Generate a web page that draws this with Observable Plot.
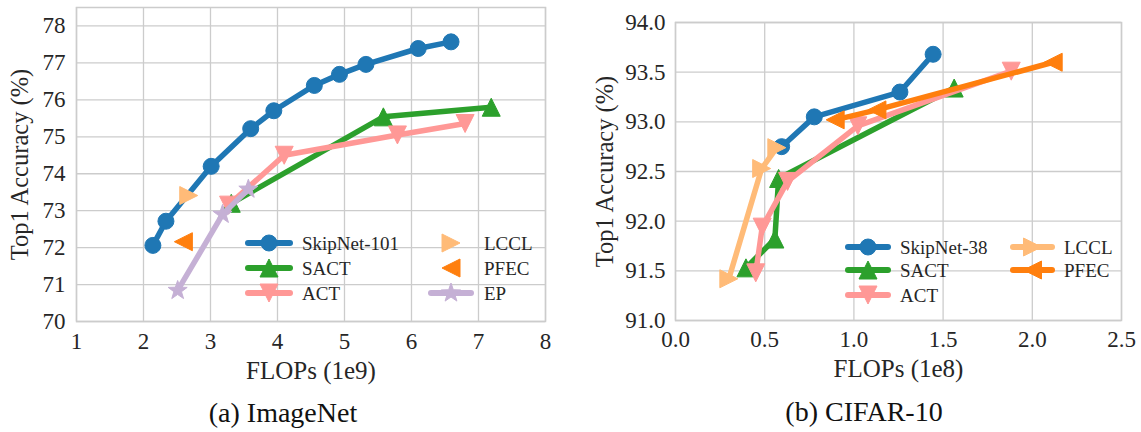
<!DOCTYPE html>
<html>
<head>
<meta charset="utf-8">
<script src="https://cdn.jsdelivr.net/npm/d3@7"></script>
<script src="https://cdn.jsdelivr.net/npm/@observablehq/plot@0.6"></script>
<style>
  html, body { margin: 0; padding: 0; background: #fff; }
  #page { position: relative; width: 1141px; height: 432px; overflow: hidden; background: #fff; }
  .panel { position: absolute; top: 0; height: 432px; }
  .panel svg text { font-family: 'Liberation Serif', 'DejaVu Serif', 'Times New Roman', serif !important; }
  .caption { position: absolute; font-family: 'Liberation Serif', 'DejaVu Serif', serif; font-size: 28px; color: #111; white-space: nowrap; transform: translate(-50%, -50%); }
</style>
</head>
<body>
<div id="page">
  <div class="panel" id="pa" style="left:0px;width:570px"></div>
  <div class="panel" id="pb" style="left:570px;width:571px"></div>
</div>
<script>
// ---------- data: (a) ImageNet ----------
const seriesNamesA = ["SkipNet-101", "SACT", "ACT", "LCCL", "PFEC", "EP"];
const skipA_x = [2.14, 2.335, 3.01, 3.60, 3.945, 4.55, 4.925, 5.32, 6.10, 6.59];
const skipA_y = [72.06, 72.715, 74.20, 75.22, 75.705, 76.39, 76.69, 76.96, 77.39, 77.57];
const sactA_x = [3.31, 5.58, 7.19];
const sactA_y = [73.20, 75.54, 75.80];
const actA_x = [3.27, 4.10, 5.79, 6.80];
const actA_y = [73.15, 74.50, 75.05, 75.36];
const lcclA_x = [2.675];
const lcclA_y = [73.41];
const pfecA_x = [2.595];
const pfecA_y = [72.16];
const epA_x = [2.51, 3.18, 3.565];
const epA_y = [70.84, 72.90, 73.58];
const xTicksA = [1, 2, 3, 4, 5, 6, 7, 8];
const yTicksA = [70, 71, 72, 73, 74, 75, 76, 77, 78];

// ---------- data: (b) CIFAR-10 ----------
const seriesNamesB = ["SkipNet-38", "SACT", "ACT", "LCCL", "PFEC"];
const skipB_x = [0.595, 0.778, 1.258, 1.444];
const skipB_y = [92.75, 93.05, 93.30, 93.68];
const sactB_x = [0.395, 0.557, 0.578, 1.562];
const sactB_y = [91.53, 91.82, 92.43, 93.34];
const actB_x = [0.450, 0.486, 0.628, 1.022, 1.882];
const actB_y = [91.48, 91.94, 92.40, 92.96, 93.51];
const lcclB_x = [0.299, 0.483, 0.568];
const lcclB_y = [91.42, 92.53, 92.74];
const pfecB_x = [0.895, 1.129, 2.117];
const pfecB_y = [93.02, 93.12, 93.60];
const xTicksB = [0, 0.5, 1.0, 1.5, 2.0, 2.5];
const yTicksB = [91.0, 91.5, 92.0, 92.5, 93.0, 93.5, 94.0];

// ---------- styling ----------
const COL = {blue: "#1f77b4", green: "#2ca02c", pink: "#ff9896", lorange: "#ffbb78", orange: "#ff7f0e", purple: "#c5b0d5"};
const FONT = "'Liberation Serif', 'DejaVu Serif', 'Times New Roman', serif";
const GRID = "#cccccc";
const INK = "#262626";

function tri(dir) {
  return {draw(ctx, size) {
    const r = Math.sqrt(size / Math.PI);
    const p = {up: [[0,-r],[-r,r],[r,r]], down: [[0,r],[-r,-r],[r,-r]],
               right: [[r,0],[-r,-r],[-r,r]], left: [[-r,0],[r,-r],[r,r]]}[dir];
    ctx.moveTo(p[0][0], p[0][1]); ctx.lineTo(p[1][0], p[1][1]); ctx.lineTo(p[2][0], p[2][1]); ctx.closePath();
  }};
}
const starSym = {draw(ctx, size) {
  const R = Math.sqrt(size / Math.PI), ri = R * 0.40;
  for (let i = 0; i < 10; i++) {
    const a = -Math.PI / 2 + i * Math.PI / 5, rr = i % 2 ? ri : R;
    if (i === 0) ctx.moveTo(rr * Math.cos(a), rr * Math.sin(a)); else ctx.lineTo(rr * Math.cos(a), rr * Math.sin(a));
  }
  ctx.closePath();
}};
const circSym = {draw(ctx, size) { const r = Math.sqrt(size / Math.PI); ctx.moveTo(r, 0); ctx.arc(0, 0, r, 0, 2 * Math.PI); }};

const rows = (xs, ys) => xs.map((x, i) => ({x, y: ys[i]}));

function seriesMarks(s) {
  const d = rows(s.x, s.y);
  const out = [];
  if (s.line) out.push(Plot.line(d, {x: "x", y: "y", stroke: s.color, strokeWidth: 5.5, strokeLinejoin: "round", strokeLinecap: "butt"}));
  out.push(Plot.dot(d, {x: "x", y: "y", r: s.r, symbol: s.sym, fill: s.color, stroke: s.color, strokeWidth: 1}));
  return out;
}

function makeChart(cfg) {
  const chart = Plot.plot({
    width: cfg.width, height: 390,
    marginLeft: cfg.ml, marginRight: cfg.mr, marginTop: cfg.mt, marginBottom: cfg.mb,
    style: `font-family: ${FONT}; font-size: 23px; color: ${INK}; background: #fff; overflow: visible;`,
    x: {domain: cfg.xDomain},
    y: {domain: cfg.yDomain},
    marks: [
      Plot.gridX(cfg.xTicks, {stroke: GRID, strokeOpacity: 1, strokeWidth: 1.3}),
      Plot.gridY(cfg.yTicks, {stroke: GRID, strokeOpacity: 1, strokeWidth: 1.3}),
      Plot.frame({stroke: GRID, strokeWidth: 1.5}),
      Plot.axisX(cfg.xTicks, {tickSize: 0, tickPadding: cfg.xPad, tickFormat: cfg.xFmt, label: null, fontSize: 23, fontFamily: FONT}),
      Plot.axisY(cfg.yTicks, {tickSize: 0, tickPadding: cfg.yPad, tickFormat: cfg.yFmt, label: null, fontSize: 23, fontFamily: FONT}),
      Plot.text([cfg.xLabel], {frameAnchor: "bottom", lineAnchor: "middle", textAnchor: "middle", dy: cfg.xLabelDy, fontSize: 25, fontFamily: FONT, fill: INK}),
      Plot.text([cfg.yLabel], {frameAnchor: "left", lineAnchor: "middle", textAnchor: "middle", rotate: -90, dx: cfg.yLabelDx, fontSize: 24.5, fontFamily: FONT, fill: INK}),
      ...cfg.series.flatMap(seriesMarks)
    ]
  });
  // legend (annotation, pixel space)
  const svg = d3.select(chart);
  const g = svg.append("g").attr("font-family", FONT).attr("font-size", 19).attr("fill", INK).attr("text-anchor", "start");
  cfg.legend.forEach(it => {
    const s = cfg.series.find(d => d.name === it.name);
    if (s.line) g.append("line").attr("x1", it.x1).attr("x2", it.x2).attr("y1", it.y).attr("y2", it.y)
      .attr("stroke", s.color).attr("stroke-width", 6).attr("stroke-linecap", "round");
    g.append("path").attr("d", d3.symbol().type(s.sym).size(Math.PI * s.r * s.r)())
      .attr("transform", `translate(${(it.x1 + it.x2) / 2},${it.y})`).attr("fill", s.color).attr("stroke", s.color);
    g.append("text").attr("x", it.tx).attr("y", it.y).attr("dy", "0.35em")
      .attr("style", `font-family: ${FONT}; font-size: 19px; text-anchor: start;`).text(it.name);
  });
  return chart;
}

const seriesA = [
  {name: seriesNamesA[0], x: skipA_x, y: skipA_y, color: COL.blue, sym: circSym, r: 8, line: true},
  {name: seriesNamesA[1], x: sactA_x, y: sactA_y, color: COL.green, sym: tri("up"), r: 9, line: true},
  {name: seriesNamesA[2], x: actA_x, y: actA_y, color: COL.pink, sym: tri("down"), r: 9, line: true},
  {name: seriesNamesA[3], x: lcclA_x, y: lcclA_y, color: COL.lorange, sym: tri("right"), r: 9, line: false},
  {name: seriesNamesA[4], x: pfecA_x, y: pfecA_y, color: COL.orange, sym: tri("left"), r: 9, line: false},
  {name: seriesNamesA[5], x: epA_x, y: epA_y, color: COL.purple, sym: starSym, r: 10, line: true}
];
const seriesB = [
  {name: seriesNamesB[0], x: skipB_x, y: skipB_y, color: COL.blue, sym: circSym, r: 8, line: true},
  {name: seriesNamesB[1], x: sactB_x, y: sactB_y, color: COL.green, sym: tri("up"), r: 9, line: true},
  {name: seriesNamesB[2], x: actB_x, y: actB_y, color: COL.pink, sym: tri("down"), r: 9, line: true},
  {name: seriesNamesB[3], x: lcclB_x, y: lcclB_y, color: COL.lorange, sym: tri("right"), r: 9, line: true},
  {name: seriesNamesB[4], x: pfecB_x, y: pfecB_y, color: COL.orange, sym: tri("left"), r: 9, line: true}
];

const chartA = makeChart({
  width: 570, ml: 76, mr: 25, mt: 7, mb: 69,
  xDomain: [1, 8], yDomain: [70, 78.5], xTicks: xTicksA, yTicks: yTicksA,
  xFmt: d3.format("d"), yFmt: d3.format("d"), xPad: 11, yPad: 11,
  xLabel: "FLOPs (1e9)", yLabel: "Top1 Accuracy (%)", xLabelDy: 49, yLabelDx: -56,
  series: seriesA,
  legend: [
    {name: "SkipNet-101", x1: 248, x2: 290, y: 243, tx: 302},
    {name: "SACT", x1: 248, x2: 290, y: 268, tx: 302},
    {name: "ACT", x1: 248, x2: 290, y: 293, tx: 302},
    {name: "LCCL", x1: 431, x2: 471, y: 243, tx: 484},
    {name: "PFEC", x1: 431, x2: 471, y: 268, tx: 484},
    {name: "EP", x1: 431, x2: 471, y: 293, tx: 484}
  ]
});
const chartB = makeChart({
  width: 571, ml: 105, mr: 20, mt: 22, mb: 70,
  xDomain: [0, 2.5], yDomain: [91, 94], xTicks: xTicksB, yTicks: yTicksB,
  xFmt: d3.format(".1f"), yFmt: d3.format(".1f"), xPad: 10.5, yPad: 10,
  xLabel: "FLOPs (1e8)", yLabel: "Top1 Accuracy (%)", xLabelDy: 48, yLabelDx: -70,
  series: seriesB,
  legend: [
    {name: "SkipNet-38", x1: 278, x2: 318, y: 247, tx: 330},
    {name: "SACT", x1: 278, x2: 318, y: 270, tx: 330},
    {name: "ACT", x1: 278, x2: 318, y: 295, tx: 330},
    {name: "LCCL", x1: 443, x2: 482, y: 247, tx: 494},
    {name: "PFEC", x1: 443, x2: 482, y: 270, tx: 494}
  ]
});

document.getElementById("pa").appendChild(chartA);
document.getElementById("pb").appendChild(chartB);

function addCaption(el, text, cx, cy) {
  const c = document.createElement("div");
  c.className = "caption"; c.textContent = text;
  c.style.left = cx + "px"; c.style.top = cy + "px";
  el.appendChild(c);
}
addCaption(document.getElementById("pa"), "(a) ImageNet", 283, 413);
addCaption(document.getElementById("pb"), "(b) CIFAR-10", 294, 412);
</script>
</body>
</html>
